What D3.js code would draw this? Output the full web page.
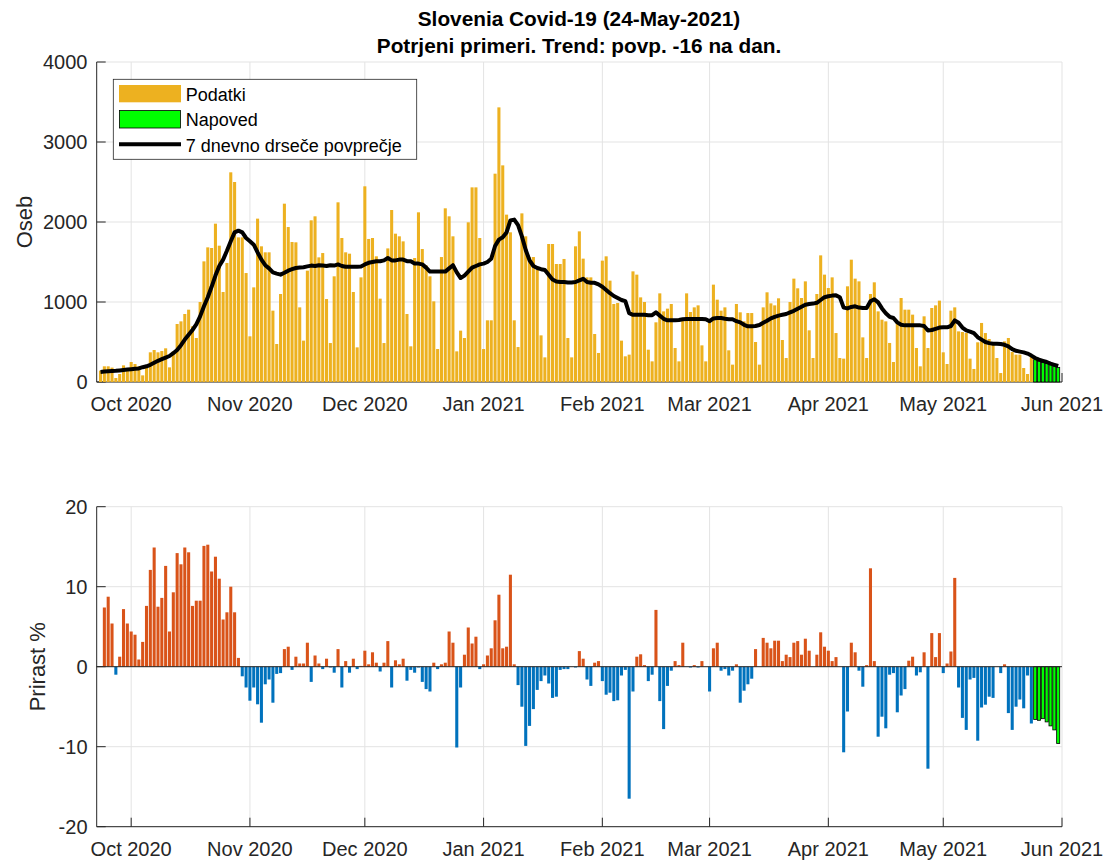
<!DOCTYPE html>
<html><head><meta charset="utf-8">
<script src="https://cdn.jsdelivr.net/npm/d3@7"></script>
<style>
body{margin:0;background:#fff}
svg{display:block;font-family:"Liberation Sans",Arial,Helvetica,sans-serif}
</style>
</head><body>
<svg id="chart" width="1105" height="860"></svg>
<script>
// ---------------- data ----------------
const titleLines = ["Slovenia Covid-19 (24-May-2021)", "Potrjeni primeri. Trend: povp. -16 na dan."];
const legendLabels = ["Podatki", "Napoved", "7 dnevno drseče povprečje"];
const yLabelTop = "Oseb";
const yLabelBottom = "Prirast %";

const casesStart = "2020-09-23";     // first daily bar
const forecastStart = "2021-05-25";  // first forecast bar
const growthStart = "2020-09-24";    // first growth bar
const domainStart = "2020-09-22";
const domainEnd = "2021-06-01";

const cases = [
 142,196,196,180,50,100,208,175,250,225,
 196,83,196,371,400,371,387,421,183,383,
 725,758,850,904,696,550,1000,1508,1683,1675,
 1979,1704,1125,1488,2621,2500,1808,1808,1362,571,
 1183,2042,1696,1621,1621,892,475,1100,2229,1937,
 1750,1746,933,517,1392,2021,2071,1558,1612,1037,
 487,1321,2246,1800,1621,1604,1125,433,1308,2446,
 1788,1800,1571,1042,487,1670,2150,1854,1821,1758,
 850,446,1550,2121,1662,1458,1321,1008,412,1562,
 2171,2071,1821,383,642,550,1996,2433,2433,1800,
 412,771,771,2604,3433,2708,2092,1871,771,437,
 2108,1821,1562,1562,1400,583,308,1725,1725,1475,
 1475,1538,550,308,1696,1883,1542,1308,1308,600,
 363,1517,1571,1267,975,988,517,321,342,1383,
 1342,1058,1000,404,258,746,1108,883,917,975,
 425,258,792,1108,875,933,958,458,258,750,
 1217,1029,892,933,396,217,975,871,758,862,
 862,500,217,933,1121,983,958,1046,525,300,
 1000,1292,1171,1050,1258,646,300,1100,1583,1342,
 1175,1308,612,300,292,1196,1529,1292,1258,558,
 300,1100,1246,883,779,758,488,250,758,1050,
 904,904,842,425,196,821,425,925,958,1017,
 371,225,892,933,633,625,612,292,163,496,
 738,612,537,483,300,112,508,550,375,342,
 342,175,100,321
];
const forecast = [279,262,246,231,217,200,183];

const movingAvg = [
 125,130,135,138,140,145,150,155,160,165,
 170,185,196,215,240,265,285,305,325,360,
 400,460,530,590,650,720,820,946,1060,1190,
 1330,1450,1530,1640,1760,1870,1892,1870,1800,1760,
 1717,1620,1529,1460,1420,1370,1355,1342,1365,1392,
 1410,1425,1430,1435,1445,1455,1450,1460,1455,1450,
 1460,1455,1470,1450,1440,1440,1440,1440,1445,1470,
 1490,1500,1510,1510,1520,1550,1520,1520,1530,1530,
 1510,1510,1480,1480,1470,1430,1380,1380,1380,1380,
 1380,1420,1460,1370,1300,1330,1380,1430,1450,1470,
 1480,1500,1540,1700,1780,1810,1870,2020,2030,1960,
 1820,1650,1520,1450,1425,1410,1400,1340,1280,1255,
 1250,1250,1245,1245,1250,1270,1290,1250,1240,1240,
 1220,1190,1150,1110,1075,1050,1025,1010,860,840,
 842,842,840,835,835,870,830,790,771,771,
 771,775,785,787,787,787,787,787,785,760,
 795,800,800,790,785,785,760,745,715,696,
 696,700,712,740,765,795,815,830,840,850,
 870,890,915,940,965,975,980,990,1025,1060,
 1072,1080,1083,1060,930,920,938,946,930,925,
 925,1010,1035,995,920,860,815,800,745,715,
 708,708,708,708,708,700,645,650,665,680,
 683,683,700,770,740,680,645,630,610,560,
 530,500,486,479,479,475,465,445,410,390,
 380,370,355,330,300,280,265,250,230,215,
 200
];

const growth = [
 7.4,8.75,5.4,-1.0,1.25,7.2,5.4,4.4,4.0,0.9,
 3.1,7.6,12.1,14.9,7.5,8.6,12.6,4.4,9.3,14.2,
 12.8,14.9,14.3,7.6,8.25,8.25,15.1,15.25,11.9,13.75,
 11.0,5.9,6.8,10.0,6.8,1.1,-1.2,-2.6,-4.25,-2.6,
 -4.7,-7.0,-2.2,-1.6,-4.5,-0.9,-0.8,2.2,2.5,-0.4,
 1.25,0.4,0.4,3.0,-1.9,1.4,0.4,-0.3,1.0,-0.1,
 -0.75,2.2,-2.6,0.7,-0.75,1.0,-0.3,0.1,2.0,0.3,
 1.8,0.5,-0.6,0.5,3.2,-2.6,0.8,0.3,1.0,-1.75,
 -0.4,-0.75,-0.1,-1.9,-2.8,-3.1,0.5,-0.3,0.3,0.5,
 4.4,3.0,-10.1,-2.6,1.5,4.9,2.9,3.75,-0.3,0.3,
 1.4,2.3,5.8,9.0,2.3,2.5,11.5,0.3,-2.3,-5.0,
 -9.9,-7.4,-5.3,-2.9,-1.8,-1.1,-2.1,-3.9,-3.75,-0.4,
 -0.3,-0.3,0,-0.1,1.95,1.0,-1.6,-2.4,0.5,0.7,
 -1.8,-3.5,-3.25,-4.3,-4.2,-1.1,-0.4,-16.5,-3.1,1.25,
 1.55,0.2,-1.8,-1.0,7.1,-4.3,-7.8,-2.4,-0.5,0.7,
 0.2,3.0,0,-0.1,0.2,-0.1,0.7,0,-3.1,2.3,
 3.0,-0.5,-0.3,-1.1,-0.5,0.3,-4.5,-3.0,-2.2,-1.5,
 2.2,0,3.6,3.0,2.3,3.25,3.25,0.7,1.5,1.2,
 3.0,3.2,1.5,3.5,2.0,0,1.5,4.3,2.5,2.0,
 0.7,1.2,0,-10.7,-5.6,3.0,1.8,-0.5,-2.5,0.2,
 12.3,0.7,-8.75,-6.25,-7.7,-1.0,-0.8,-5.7,-3.6,-2.8,
 0.75,1.25,-1.1,-0.7,1.8,-12.75,4.2,1.2,4.2,-0.8,
 0.4,1.9,11.1,-2.6,-6.4,-7.9,-1.6,-1.4,-9.25,-5.1,
 -4.75,-3.75,-3.9,0,-0.8,0.3,-5.8,-7.9,-5.0,-4.1,
 -5.2,-1.1,-7.1
];
const growthForecast = [-6.6,-6.7,-6.5,-6.9,-7.4,-7.9,-9.6];

const monthTicks = ["2020-10-01","2020-11-01","2020-12-01","2021-01-01","2021-02-01","2021-03-01","2021-04-01","2021-05-01","2021-06-01"];
const casesTicks = [0,1000,2000,3000,4000];
const growthTicks = [-20,-10,0,10,20];

// ---------------- styles ----------------
const C_ORANGE = "#EDB120", C_RED = "#D95319", C_BLUE = "#0072BD", C_GREEN = "#00FF00";
const AX = "#262626", GRID = "#e3e3e3";
const FS = 20;

const parse = d3.utcParse("%Y-%m-%d");
const dayAt = (start, i) => d3.utcDay.offset(parse(start), i);
const svg = d3.select("#chart");

const x = d3.scaleUtc().domain([parse(domainStart), parse(domainEnd)]).range([96.7, 1062]);
const step = x(parse("2020-10-02")) - x(parse("2020-10-01"));
const bw = step * 0.8;
const tickDates = monthTicks.map(parse);
const fmt = d3.utcFormat("%b %Y");

function panel(y, ticks, yTickFmt) {
  const g = svg.append("g");
  const [y0, y1] = y.range();
  g.selectAll(".gx").data(tickDates).join("line")
    .attr("x1", d => x(d)).attr("x2", d => x(d)).attr("y1", y0).attr("y2", y1)
    .attr("stroke", GRID).attr("stroke-width", 1);
  g.selectAll(".gy").data(ticks).join("line")
    .attr("x1", x.range()[0]).attr("x2", x.range()[1]).attr("y1", d => y(d)).attr("y2", d => y(d))
    .attr("stroke", GRID).attr("stroke-width", 1);
  g.append("line").attr("x1", x.range()[0]).attr("x2", x.range()[0]).attr("y1", y0).attr("y2", y1).attr("stroke", AX);
  g.append("line").attr("x1", x.range()[0]).attr("x2", x.range()[1]).attr("y1", y0).attr("y2", y0).attr("stroke", AX);
  g.selectAll(".ty").data(ticks).join("line")
    .attr("x1", x.range()[0]).attr("x2", x.range()[0] + 9).attr("y1", d => y(d)).attr("y2", d => y(d)).attr("stroke", AX);
  g.selectAll(".tx").data(tickDates).join("line")
    .attr("x1", d => x(d)).attr("x2", d => x(d)).attr("y1", y0).attr("y2", y0 - 9).attr("stroke", AX);
  g.selectAll(".ly").data(ticks).join("text")
    .attr("x", 87.5).attr("y", d => y(d) + 7).attr("text-anchor", "end")
    .attr("font-size", FS).attr("fill", AX).text(yTickFmt);
  g.selectAll(".lx").data(tickDates).join("text")
    .attr("x", d => x(d)).attr("y", y0 + 29).attr("text-anchor", "middle")
    .attr("font-size", FS).attr("fill", AX).text(d => fmt(d));
  return g;
}

// ---------------- top panel ----------------
const yTop = d3.scaleLinear().domain([0, 4000]).range([382, 62]);
const gTop = panel(yTop, casesTicks, d => d);

const caseRows = cases.map((v, i) => ({ date: dayAt(casesStart, i), v }));
const fcRows = forecast.map((v, i) => ({ date: dayAt(forecastStart, i), v }));
gTop.append("g").selectAll("rect").data(caseRows).join("rect")
  .attr("x", d => x(d.date) - bw / 2).attr("width", bw)
  .attr("y", d => yTop(d.v)).attr("height", d => yTop(0) - yTop(d.v))
  .attr("fill", C_ORANGE);
gTop.append("g").selectAll("rect").data(fcRows).join("rect")
  .attr("x", d => x(d.date) - bw / 2).attr("width", bw)
  .attr("y", d => yTop(d.v)).attr("height", d => yTop(0) - yTop(d.v))
  .attr("fill", C_GREEN).attr("stroke", "#000").attr("stroke-width", 0.8);

const maRows = movingAvg.map((v, i) => ({ date: dayAt(casesStart, i), v }));
gTop.append("path").datum(maRows)
  .attr("d", d3.line().x(d => x(d.date)).y(d => yTop(d.v)))
  .attr("fill", "none").attr("stroke", "#000").attr("stroke-width", 4).attr("stroke-linejoin", "round");

// legend
const lg = svg.append("g");
lg.append("rect").attr("x", 113.3).attr("y", 79.3).attr("width", 303.4).attr("height", 80)
  .attr("fill", "#fff").attr("stroke", AX).attr("stroke-width", 0.8);
lg.append("rect").attr("x", 119).attr("y", 85).attr("width", 62).attr("height", 17.3).attr("fill", C_ORANGE);
lg.append("rect").attr("x", 119.5).attr("y", 110.5).attr("width", 61).attr("height", 17.5)
  .attr("fill", C_GREEN).attr("stroke", "#000").attr("stroke-width", 0.8);
lg.append("line").attr("x1", 119).attr("x2", 181).attr("y1", 144.3).attr("y2", 144.3)
  .attr("stroke", "#000").attr("stroke-width", 4);
lg.selectAll("text").data(legendLabels).join("text")
  .attr("x", 185.7).attr("y", (d, i) => [100.5, 126, 151.5][i])
  .attr("font-size", 18).attr("fill", "#000").text(d => d);

// ---------------- bottom panel ----------------
const yBot = d3.scaleLinear().domain([-20, 20]).range([826.7, 506.7]);
const gBot = panel(yBot, growthTicks, d => d);
const grRows = growth.map((v, i) => ({ date: dayAt(growthStart, i), v }));
const gfRows = growthForecast.map((v, i) => ({ date: dayAt(forecastStart, i), v }));
gBot.append("g").selectAll("rect").data(grRows.filter(d => d.v !== 0)).join("rect")
  .attr("x", d => x(d.date) - bw / 2).attr("width", bw)
  .attr("y", d => yBot(Math.max(0, d.v))).attr("height", d => Math.abs(yBot(d.v) - yBot(0)))
  .attr("fill", d => d.v > 0 ? C_RED : C_BLUE);
gBot.append("g").selectAll("rect").data(gfRows).join("rect")
  .attr("x", d => x(d.date) - bw / 2).attr("width", bw)
  .attr("y", d => yBot(Math.max(0, d.v))).attr("height", d => Math.abs(yBot(d.v) - yBot(0)))
  .attr("fill", C_GREEN).attr("stroke", "#000").attr("stroke-width", 0.8);
gBot.append("line").attr("x1", x.range()[0]).attr("x2", x.range()[1])
  .attr("y1", yBot(0)).attr("y2", yBot(0)).attr("stroke", AX).attr("stroke-width", 1);

// ---------------- titles / labels ----------------
svg.selectAll(".title").data(titleLines).join("text")
  .attr("x", 579).attr("y", (d, i) => [25.5, 52.5][i]).attr("text-anchor", "middle")
  .attr("font-size", 20.8).attr("font-weight", "bold").attr("fill", "#000").text(d => d);
svg.append("text").attr("transform", "translate(31.5,222) rotate(-90)").attr("text-anchor", "middle")
  .attr("font-size", 22).attr("fill", AX).text(yLabelTop);
svg.append("text").attr("transform", "translate(45,666.7) rotate(-90)").attr("text-anchor", "middle")
  .attr("font-size", 22).attr("fill", AX).text(yLabelBottom);
</script>
</body></html>
